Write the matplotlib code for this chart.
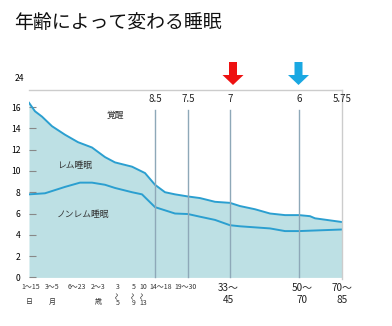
import numpy as np
import matplotlib
matplotlib.use('Agg')
import matplotlib.pyplot as plt
from matplotlib.patches import FancyArrow

plt.rcParams['font.family'] = ['Noto Sans CJK JP', 'DejaVu Sans']

# total sleep (upper edge) and non-REM share (lower line), hours
up_x = [0, 6, 13, 23, 36, 49, 63, 76, 86, 103, 116, 126, 136, 146, 159, 171, 186, 201, 211, 226, 241, 256, 270, 281, 286, 313]
up_y = [16.4, 15.6, 15.1, 14.2, 13.4, 12.7, 12.2, 11.3, 10.8, 10.4, 9.8, 8.7, 8.0, 7.8, 7.6, 7.45, 7.1, 7.0, 6.7, 6.4, 6.0, 5.85, 5.85, 5.75, 5.55, 5.2]
lo_x = [0, 16, 26, 36, 51, 63, 76, 86, 103, 113, 126, 136, 146, 159, 171, 186, 201, 211, 241, 256, 270, 313]
lo_y = [7.8, 7.9, 8.2, 8.5, 8.9, 8.9, 8.7, 8.4, 8.0, 7.8, 6.6, 6.3, 6.0, 5.95, 5.7, 5.4, 4.9, 4.8, 4.6, 4.35, 4.35, 4.5]

# age markers: position, hours label on top
mark_x = [126, 159, 201, 270, 313]
mark_lab = ['8.5', '7.5', '7', '6', '5.75']

# small age labels under the axis
small_x = [2, 23, 48, 69, 157, 132]
small_lab = ['1～15', '3～5', '6～23', '2～3', '19～30', '14～18']
unit_x = [0, 23, 69]
unit_lab = ['日', '月', '歳']
# school ages written top-to-bottom
vert_x = [89, 105, 114]
vert_from = ['3', '5', '10']
vert_to = ['5', '9', '13']
big_x = [199, 273, 313]
big_top = ['33～', '50～', '70～']
big_bot = ['45', '70', '85']

fill_c = '#bde0e4'
line_c = '#2b9fd0'
vline_c = '#8ea8b8'

fig = plt.figure(figsize=(3.92, 3.26), dpi=100)
ax = fig.add_axes([29/392, 1-279/326, 313/392, 189/326])

ax.fill_between(up_x, 0, up_y, color=fill_c, lw=0)
ax.plot(up_x, up_y, color=line_c, lw=1.4)
ax.plot(lo_x, lo_y, color=line_c, lw=1.4)

for x, t in zip(mark_x, mark_lab):
    if x < 313:
        ax.plot([x, x], [0, 15.75], color=vline_c, lw=1.0)
    ax.text(x, 16.75, t, ha='center', va='center', fontsize=7, color='#222222')

ax.set_xlim(0, 313)
ax.set_ylim(-0.15, 17.6)
ax.set_yticks(range(0, 17, 2))
ax.tick_params(axis='y', direction='in', length=5, color='#888888', labelsize=6.2, pad=6)
ax.set_xticks([])
for s in ['left', 'bottom']:
    ax.spines[s].set_visible(False)
for s in ['top', 'right']:
    ax.spines[s].set_color('#cccccc')
    ax.spines[s].set_linewidth(1.0)

ax.text(86, 15.2, '覚醒', fontsize=6.3, ha='center', va='center', color='#333333')
ax.text(46, 10.5, 'レム睡眠', fontsize=6.3, ha='center', va='center', color='#333333')
ax.text(54, 5.9, 'ノンレム睡眠', fontsize=6.3, ha='center', va='center', color='#333333')
ax.text(-10, 18.7, '24', fontsize=6.2, ha='center', va='center', clip_on=False)

tr = ax.get_xaxis_transform()
for x, t in zip(small_x, small_lab):
    ax.text(x, -0.042, t, ha='center', va='center', fontsize=5.0, color='#333333', transform=tr)
for x, t in zip(unit_x, unit_lab):
    ax.text(x, -0.122, t, ha='center', va='center', fontsize=5.0, color='#333333', transform=tr)
for x, a, b in zip(vert_x, vert_from, vert_to):
    ax.text(x, -0.042, a, ha='center', va='center', fontsize=5.0, color='#333333', transform=tr)
    ax.text(x, -0.085, '～', ha='center', va='center', fontsize=5.0, rotation=90, color='#333333', transform=tr)
    ax.text(x, -0.125, b, ha='center', va='center', fontsize=5.0, color='#333333', transform=tr)
for x, a, b in zip(big_x, big_top, big_bot):
    ax.text(x, -0.045, a, ha='center', va='center', fontsize=7.2, color='#222222', transform=tr)
    ax.text(x, -0.111, b, ha='center', va='center', fontsize=7.2, color='#222222', transform=tr)

# arrows above the adult markers
for xp, col in [(233, '#ee1111'), (298.5, '#1aa8e2')]:
    fx, fy = xp/392, 1-62/326
    fig.patches.append(FancyArrow(fx, fy, 0, -23/326, width=8/392, head_width=21/392,
                                  head_length=10/326, length_includes_head=True,
                                  color=col, lw=0, transform=fig.transFigure))

fig.text(14/392, 1-22/326, '年齢によって変わる睡眠', fontsize=13.6, va='center', ha='left', color='#111111')

fig.savefig('out.png', dpi=100)
